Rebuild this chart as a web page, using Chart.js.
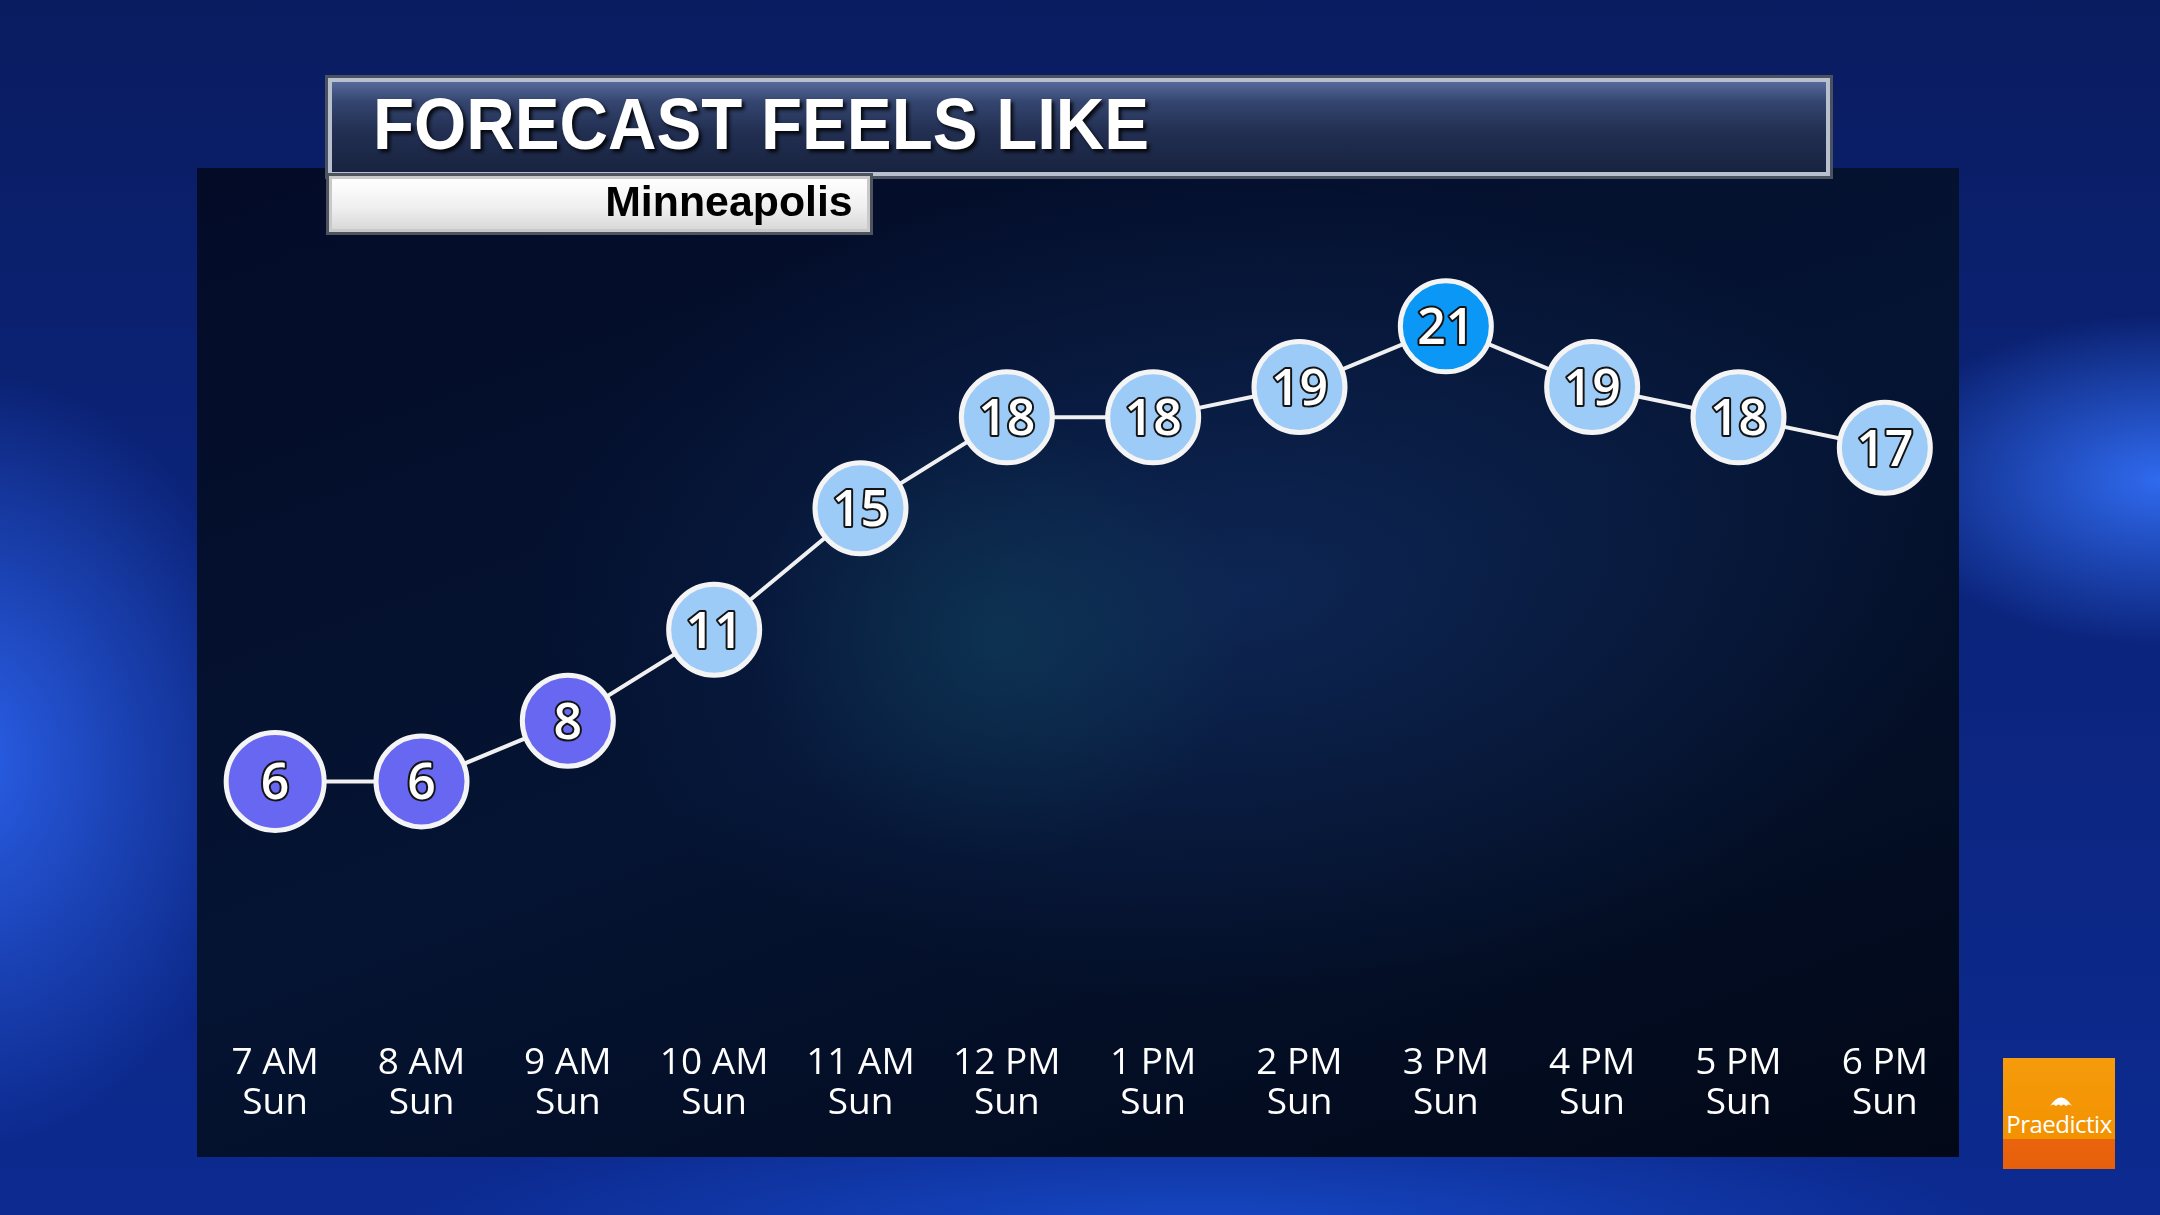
<!DOCTYPE html>
<html>
<head>
<meta charset="utf-8">
<script src="https://cdn.jsdelivr.net/npm/chart.js@4.4.1/dist/chart.umd.min.js"></script>
<style>
  html, body { margin: 0; padding: 0; width: 2160px; height: 1215px; overflow: hidden; }
  body {
    position: relative;
    background:
      radial-gradient(ellipse 420px 520px at -40px 760px, rgba(45,100,240,0.95), rgba(45,100,240,0) 75%),
      radial-gradient(ellipse 380px 220px at 2160px 480px, rgba(50,110,245,0.95), rgba(50,110,245,0) 75%),
      radial-gradient(ellipse 1000px 160px at 1200px 1230px, rgba(25,80,210,0.8), rgba(25,80,210,0) 80%),
      linear-gradient(180deg, #0a1c60 0%, #0b2378 40%, #0c2a90 100%);
  }
  #panel {
    position: absolute; left: 197px; top: 168px; width: 1762px; height: 989px;
    background:
      radial-gradient(ellipse 330px 300px at 800px 470px, rgba(20,95,105,0.3), rgba(20,95,105,0) 75%),
      radial-gradient(ellipse 950px 560px at 1050px 420px, rgba(22,55,115,0.5), rgba(22,55,115,0) 75%),
      linear-gradient(160deg, #030b27 0%, #051433 50%, #020817 100%);
  }
  #chart { position: absolute; left: 0; top: 0; }
  #titleBar {
    position: absolute; left: 328px; top: 78px; width: 1502px; height: 98px;
    box-sizing: border-box;
    border: 4px solid #b9c0cd;
    box-shadow: 0 0 0 3px #4a5160;
    background: linear-gradient(180deg, #56699a 0%, #34456f 22%, #222f52 55%, #18233f 100%);
  }
  #titleText {
    position: absolute; left: 41px; top: 5px;
    font: bold 73px "Liberation Sans", Arial, sans-serif; line-height: 1;
    color: #fff; white-space: nowrap;
    transform: scaleX(0.92); transform-origin: left top;
    text-shadow: 3px 3px 4px rgba(0,0,0,0.85);
  }
  #subBox {
    position: absolute; left: 329px; top: 176px; width: 541px; height: 56px;
    box-sizing: border-box;
    border: 3px solid #c9c9c9;
    box-shadow: 0 0 0 3px #4d535f;
    background: linear-gradient(180deg, #ffffff 0%, #f0f0f0 55%, #d9d9d9 100%);
  }
  #subText {
    position: absolute; right: 14px; top: 2px;
    font: bold 42px "Liberation Sans", Arial, sans-serif; line-height: 1;
    color: #000; white-space: nowrap;
    transform: scaleX(1.02); transform-origin: right top;
  }
  #logo {
    position: absolute; left: 2003px; top: 1058px; width: 112px; height: 111px;
    background: linear-gradient(180deg, #f59b0c 0%, #f39200 73%, #e9650c 73%, #e75f0c 100%);
  }
  #logoText {
    position: absolute; left: 0; width: 112px; top: 49px; text-align: center;
    font: 24px "Open Sans", sans-serif; color: #fff; letter-spacing: -0.5px;
  }
  #logo svg { position: absolute; left: 46px; top: 36px; }
</style>
</head>
<body>
<div id="panel"></div>
<canvas id="chart" width="2160" height="1215"></canvas>
<div id="titleBar"><div id="titleText">FORECAST FEELS LIKE</div></div>
<div id="subBox"><div id="subText">Minneapolis</div></div>
<div id="logo">
  <svg width="24" height="14" viewBox="0 0 24 14"><path d="M1 12 Q12 -5 23 12 Q20 9 17 12 Q14.5 9 12 12 Q9.5 9 7 12 Q4 9 1 12 Z" fill="#fff"/></svg>
  <div id="logoText">Praedictix</div>
</div>
<script>
const hours = ["7 AM", "8 AM", "9 AM", "10 AM", "11 AM", "12 PM", "1 PM", "2 PM", "3 PM", "4 PM", "5 PM", "6 PM"];
const days = ["Sun", "Sun", "Sun", "Sun", "Sun", "Sun", "Sun", "Sun", "Sun", "Sun", "Sun", "Sun"];
const feelsLike = [6, 6, 8, 11, 15, 18, 18, 19, 21, 19, 18, 17];

const labels = hours.map((h, i) => [h, days[i]]);

function pointColor(v) {
    if (v >= 21) return "#0a97f5";
    if (v >= 10) return "#9dcbf8";
    return "#6767f2";
}

// numbers inside the circles
const valueLabels = {
    id: "valueLabels",
    afterDatasetsDraw(chart) {
        const ctx = chart.ctx;
        const meta = chart.getDatasetMeta(0);
        ctx.save();
        ctx.font = "600 50px 'Open Sans'";
        ctx.textAlign = "center";
        ctx.textBaseline = "alphabetic";
        ctx.lineJoin = "round";
        meta.data.forEach((pt, i) => {
            const txt = String(feelsLike[i]);
            const y = pt.y + 18;
            ctx.lineWidth = 4;
            ctx.strokeStyle = "#141414";
            ctx.strokeText(txt, pt.x, y);
            ctx.fillStyle = "#ffffff";
            ctx.fillText(txt, pt.x, y);
        });
        ctx.restore();
    }
};

new Chart(document.getElementById("chart"), {
    type: "line",
    data: {
        labels,
        datasets: [{
            data: feelsLike,
            borderColor: "#f0f0f0",
            borderWidth: 4,
            tension: 0,
            clip: false,
            pointRadius: c => (c.dataIndex === 0 ? 49 : 45.5),
            pointBorderWidth: 5,
            pointBorderColor: "#f4f4f4",
            pointBackgroundColor: feelsLike.map(pointColor)
        }]
    },
    options: {
        responsive: false,
        animation: false,
        devicePixelRatio: 1,
        events: [],
        layout: { padding: { left: 202, right: 202, top: 205, bottom: 81 } },
        plugins: {
            legend: { display: false },
            tooltip: { enabled: false }
        },
        scales: {
            x: {
                offset: true,
                grid: { display: false },
                border: { display: false },
                ticks: {
                    color: "#ffffff",
                    font: { family: "'Open Sans'", size: 37, lineHeight: 1.08 },
                    padding: 11,
                    maxRotation: 0,
                    autoSkip: false
                }
            },
            y: { display: false, min: -2, max: 25 }
        }
    },
    plugins: [valueLabels]
});
</script>
</body>
</html>
